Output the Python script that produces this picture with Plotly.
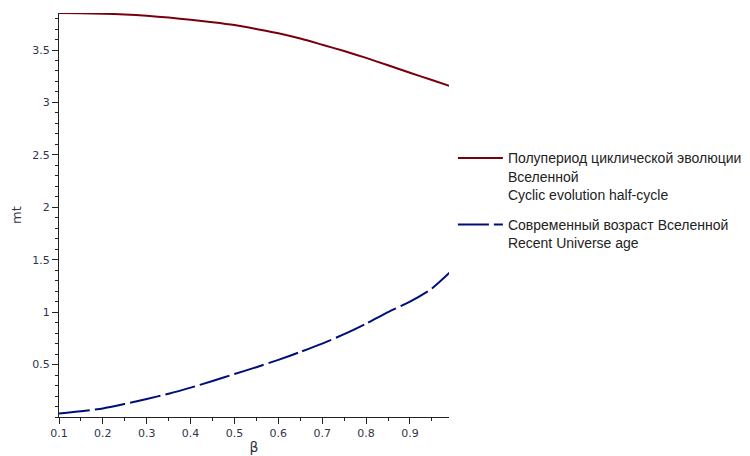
import plotly.graph_objects as go

beta = [0.1, 0.15, 0.2, 0.25, 0.3, 0.35, 0.4, 0.45, 0.5, 0.55, 0.6, 0.65,
        0.7, 0.75, 0.8, 0.85, 0.9, 0.95, 0.99]
half_cycle = [3.852, 3.851, 3.847, 3.839, 3.826, 3.809, 3.788, 3.765, 3.738,
              3.700, 3.660, 3.609, 3.550, 3.490, 3.425, 3.354, 3.283, 3.214, 3.158]
universe_age = [0.034, 0.055, 0.082, 0.125, 0.172, 0.222, 0.280, 0.343, 0.410,
                0.475, 0.545, 0.620, 0.700, 0.790, 0.890, 1.000, 1.100, 1.225, 1.375]

name1 = "Полупериод циклической эволюции<br>Вселенной<br>Cyclic evolution half-cycle"
name2 = "Современный возраст Вселенной<br>Recent Universe age"

y_ticks = [0.5, 1, 1.5, 2, 2.5, 3, 3.5]
y_labels = ["0.5", "1", "1.5", "2", "2.5", "3", "3.5"]
x_ticks = [0.1, 0.2, 0.3, 0.4, 0.5, 0.6, 0.7, 0.8, 0.9]
x_labels = ["0.1", "0.2", "0.3", "0.4", "0.5", "0.6", "0.7", "0.8", "0.9"]

fig = go.Figure()
fig.add_trace(go.Scatter(x=beta, y=half_cycle, mode="lines", name=name1,
                         legendgroup="a",
                         line=dict(color="#78000E", width=2, shape="spline", smoothing=0.6)))
fig.add_trace(go.Scatter(x=beta, y=universe_age, mode="lines", name=name2,
                         legendgroup="b",
                         line=dict(color="#000E78", width=2, dash="31px,5px",
                                   shape="spline", smoothing=0.6)))

tickfont = dict(family="DejaVu Sans", size=11, color="#33334a")
fig.update_layout(
    width=742, height=448,
    margin=dict(l=51, r=301, t=5, b=39, autoexpand=False),
    paper_bgcolor="white", plot_bgcolor="white",
    showlegend=True,
    legend=dict(x=1.01, y=0.68, xanchor="left", yanchor="top",
                font=dict(family="Liberation Sans", size=14, color="#222222"),
                valign="top", traceorder="grouped", tracegroupgap=9,
                itemwidth=45, bgcolor="rgba(0,0,0,0)"),
    xaxis=dict(range=[0.1, 0.989], showgrid=False, zeroline=False,
               showline=True, linecolor="#222222", linewidth=1,
               ticks="outside", ticklen=6, tickcolor="#222222",
               tickvals=x_ticks, ticktext=x_labels, tickfont=tickfont,
               minor=dict(dtick=0.05, tick0=0.1, ticks="outside", ticklen=3,
                          tickcolor="#222222", showgrid=False),
               title=dict(text="β", font=dict(family="DejaVu Sans", size=14, color="#33334a"),
                          standoff=2)),
    yaxis=dict(range=[0, 3.853], showgrid=False, zeroline=False,
               showline=True, linecolor="#222222", linewidth=1,
               ticks="outside", ticklen=6, tickcolor="#222222",
               tickvals=y_ticks, ticktext=y_labels, tickfont=tickfont,
               minor=dict(dtick=0.1, tick0=0, ticks="outside", ticklen=3,
                          tickcolor="#222222", showgrid=False),
               title=dict(text="mt", font=dict(family="DejaVu Sans", size=13, color="#33334a"),
                          standoff=7)),
)

fig.write_html("out.html")
